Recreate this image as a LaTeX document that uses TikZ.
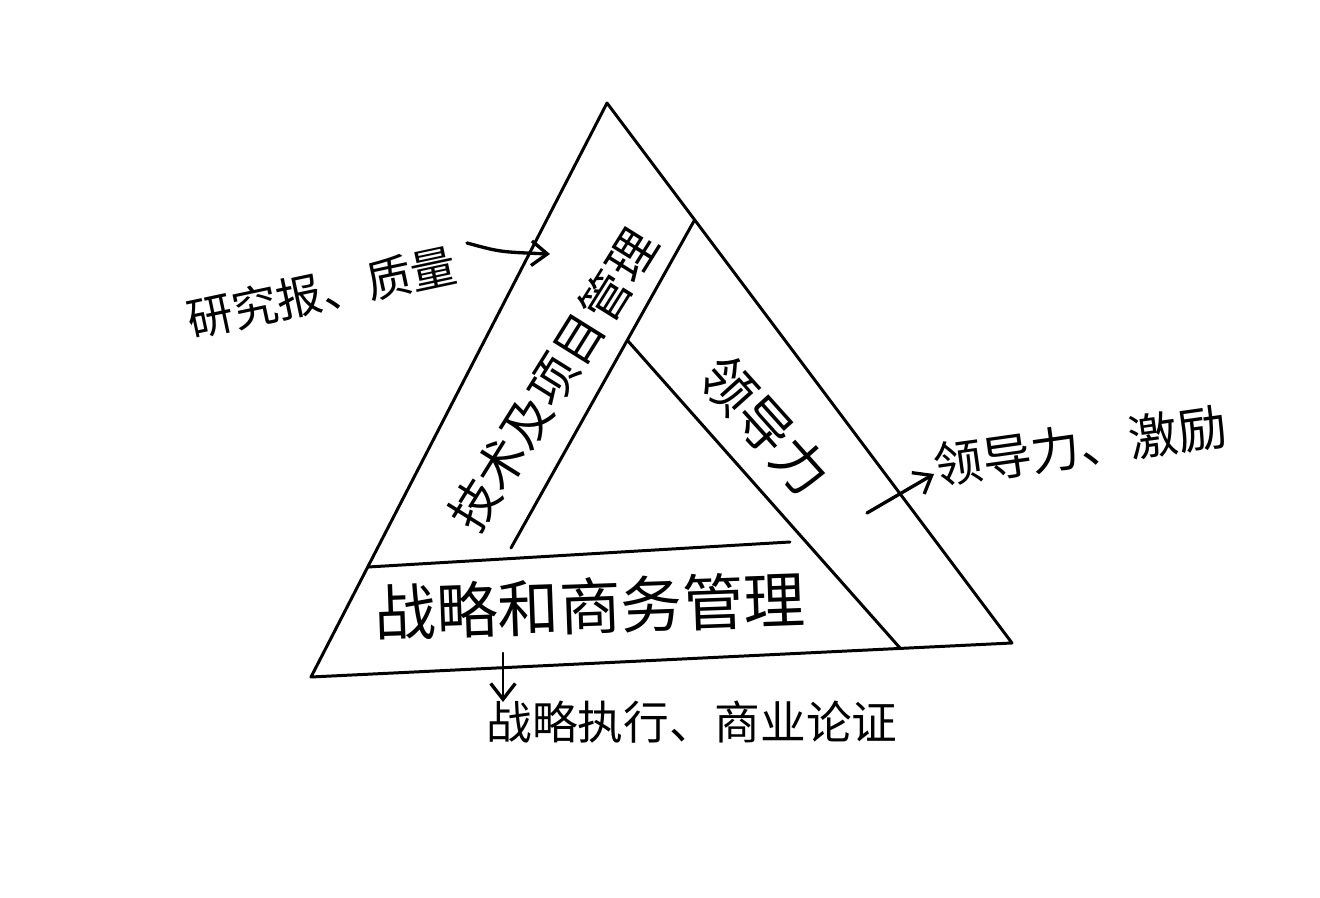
\documentclass[tikz,border=0pt]{standalone}
\usepackage{fontspec}
\newfontfamily\cjk{Noto Sans CJK SC}
\usetikzlibrary{arrows.meta}
\tikzset{
  edge/.style={line width=1.7pt, line join=round, line cap=round},
  pointer/.style={line width=1.9pt, line cap=round, -{Straight Barb[length=9pt,width=14pt,line width=1.9pt]}},
  lbl/.style={font=\cjk\fontsize{#1}{#1}\selectfont, inner sep=0pt},
}
\begin{document}
\begin{tikzpicture}[x=0.02cm,y=-0.02cm]
\useasboundingbox (0,0) rectangle (1320,898);
% outer triangle
\coordinate (T) at (607,103);
\coordinate (L) at (311,677);
\coordinate (R) at (1012,643);
\draw[edge] (T) -- (L) -- (R) -- cycle;
% inner strip lines
\coordinate (a1) at (694,221);
\coordinate (a2) at (511,548);
\coordinate (b1) at (628,341);
\coordinate (b2) at (900,648);
\coordinate (c1) at (368,567);
\coordinate (c2) at (790,542);
\draw[edge] (a1) -- (a2);
\draw[edge] (b1) -- (b2);
\draw[edge] (c1) -- (c2);
% strip labels
\node[lbl=28, rotate=58] (tech) at (553,380) {技术及项目管理};
\node[lbl=31, rotate=-48] (lead) at (765,425) {领导力};
\node[lbl=35, rotate=2] (strat) at (590,606) {战略和商务管理};
% annotations
\node[lbl=26, rotate=12] (ann1) at (322,292) {研究报、质量};
\node[lbl=28, rotate=8] (ann2) at (1080,446) {领导力、激励};
\node[lbl=26] (ann3) at (692,722) {战略执行、商业论证};
% arrows
\coordinate (p1s) at (467,243);
\coordinate (p1e) at (550,254);
\draw[pointer] (p1s) .. controls (500,252) .. (p1e);
\coordinate (p2s) at (867,513);
\coordinate (p2e) at (934,474);
\draw[pointer] (p2s) -- (p2e);
\coordinate (p3s) at (503,653);
\coordinate (p3e) at (503,702);
\draw[pointer, line width=1.4pt] (p3s) -- (p3e);
\end{tikzpicture}
\end{document}
